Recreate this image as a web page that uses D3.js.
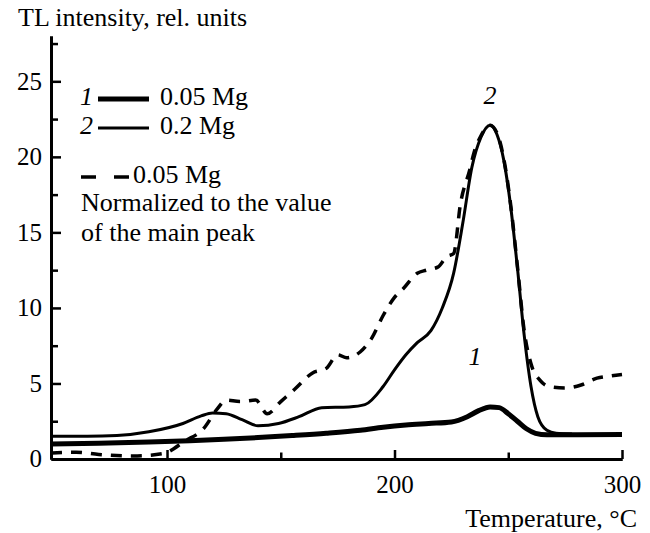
<!DOCTYPE html>
<html lang="en">
	<head>
		<meta charset="utf-8">
		<title>TL intensity vs temperature</title>
		<script src="https://d3js.org/d3.v7.min.js"></script>
		<style type="text/css">
			body { margin: 0; background: white; }
			text {
				font-family: "Liberation Serif", "DejaVu Serif", serif;
				fill: black;
			}
		</style>
	</head>
	<body>
		<svg id="chart" width="650" height="533"></svg>

		<script type="text/javascript">

			// curve 1: 0.05 Mg
			var temp1 = [49, 70, 92, 110, 125, 140, 155, 170, 185, 195, 205, 215, 225, 232, 237, 242, 246, 250, 254, 258, 262, 267, 280, 300];
			var val1  = [1.0, 1.05, 1.12, 1.2, 1.3, 1.42, 1.55, 1.7, 1.9, 2.1, 2.25, 2.35, 2.45, 2.8, 3.2, 3.45, 3.4, 3.0, 2.5, 2.0, 1.7, 1.6, 1.6, 1.62];

			// curve 2: 0.2 Mg
			var temp2 = [49, 65, 78, 92, 107, 115, 120, 126, 133, 140, 149, 158, 168, 180, 187, 195, 200, 205, 210, 216, 221, 226, 230, 234, 238, 242, 245, 248, 251, 254, 257, 260, 263, 267, 271, 278];
			var val2  = [1.5, 1.5, 1.55, 1.8, 2.35, 2.85, 3.05, 3.0, 2.6, 2.2, 2.35, 2.8, 3.4, 3.45, 3.6, 4.8, 5.9, 6.9, 7.7, 8.5, 10.0, 12.3, 15.6, 19.3, 21.3, 22.1, 21.5, 19.8, 16.8, 12.7, 8.2, 4.8, 2.8, 1.9, 1.7, 1.65];

			// dashed: 0.05 Mg normalized to the value of the main peak
			var tempN = [49, 60, 70, 85, 98, 108, 116, 122, 126, 132, 139, 144, 150, 156, 164, 170, 175, 179, 185, 190, 195, 200, 204, 210, 214, 219, 223, 226, 229, 233, 235, 238, 242, 245, 248, 251, 254, 257, 260, 264, 268, 275, 282, 289, 295, 300];
			var valN  = [0.4, 0.45, 0.3, 0.2, 0.35, 1.2, 2.0, 3.3, 3.9, 3.8, 3.9, 3.0, 3.8, 4.6, 5.7, 6.0, 6.9, 6.7, 7.1, 8.0, 9.5, 10.7, 11.3, 12.3, 12.5, 12.7, 13.4, 13.6, 16.9, 19.1, 20.3, 21.4, 22.1, 21.6, 19.9, 16.9, 12.8, 8.5, 6.3, 5.2, 4.8, 4.7, 4.9, 5.35, 5.5, 5.6];

			var xMajor = [100, 200, 300];
			var xMinor = [150, 250];
			var yMajor = [5, 10, 15, 20, 25];
			var yMinor = [2.5, 7.5, 12.5, 17.5, 22.5, 27.5];

			var legendNames = ["0.05 Mg", "0.2 Mg", "0.05 Mg"];
			var legendNums = ["1", "2"];
			var noteLines = ["Normalized to the value", "of the main peak"];

			var svg = d3.select("#chart");

			var x = d3.scaleLinear().domain([49, 300]).range([51, 622]);
			var y = d3.scaleLinear().domain([0, 28]).range([459, 36]);

			var zip = function(ts, vs) {
				return ts.map(function(t, i) { return {t: t, v: vs[i]}; });
			};

			//Axes, ticks drawn inward
			var yAxisMajor = d3.axisLeft(y).tickValues(yMajor).tickSize(-10).tickSizeOuter(0).tickPadding(9);
			var yAxisMinor = d3.axisLeft(y).tickValues(yMinor).tickSize(-7).tickSizeOuter(0).tickFormat("");
			var xAxisMajor = d3.axisBottom(x).tickValues(xMajor).tickSize(-9).tickSizeOuter(0).tickPadding(16);
			var xAxisMinor = d3.axisBottom(x).tickValues(xMinor).tickSize(-6.5).tickSizeOuter(0).tickFormat("");

			var gy = svg.append("g").attr("transform", "translate(51,0)");
			gy.call(yAxisMajor);
			gy.append("g").call(yAxisMinor);
			// the 0 label sits on the x axis
			gy.append("text").attr("x", -9).attr("y", y(0)).attr("dy", "0.32em")
				.attr("text-anchor", "end").style("font-size", "25px").text("0");

			var gx = svg.append("g").attr("transform", "translate(0,459)");
			gx.call(xAxisMajor);
			gx.append("g").call(xAxisMinor);

			svg.selectAll(".domain").attr("stroke", "black").attr("stroke-width", 3);
			svg.selectAll(".tick line").attr("stroke", "black").attr("stroke-width", 2.5);
			svg.selectAll(".tick text").style("font-size", "25px").style("font-family", "Liberation Serif");

			//Axis titles
			svg.append("text").attr("x", 18).attr("y", 26).style("font-size", "26px").text("TL intensity, rel. units");
			svg.append("text").attr("x", 637).attr("y", 527).attr("text-anchor", "end").style("font-size", "26px").text("Temperature, \u00B0C");

			//Curves
			var line = d3.line()
				.x(function(d) { return x(d.t); })
				.y(function(d) { return y(d.v); })
				.curve(d3.curveMonotoneX);

			svg.append("path").datum(zip(tempN, valN))
				.attr("fill", "none").attr("stroke", "black").attr("stroke-width", 3.5)
				.attr("stroke-dasharray", "11,9").attr("d", line);

			svg.append("path").datum(zip(temp2, val2))
				.attr("fill", "none").attr("stroke", "black").attr("stroke-width", 3).attr("d", line);

			svg.append("path").datum(zip(temp1, val1))
				.attr("fill", "none").attr("stroke", "black").attr("stroke-width", 5).attr("d", line);

			//Curve labels
			svg.append("text").attr("x", 490).attr("y", 104).attr("text-anchor", "middle")
				.style("font-size", "26px").style("font-style", "italic").text("2");
			svg.append("text").attr("x", 475).attr("y", 365).attr("text-anchor", "middle")
				.style("font-size", "26px").style("font-style", "italic").text("1");

			//Legend
			var lg = svg.append("g");
			var rows = [105, 134];
			var widths = [5, 3];
			rows.forEach(function(by, i) {
				lg.append("text").attr("x", 80).attr("y", by).style("font-size", "26px")
					.style("font-style", "italic").text(legendNums[i]);
				lg.append("line").attr("x1", 98).attr("x2", 149).attr("y1", by - 6).attr("y2", by - 6)
					.attr("stroke", "black").attr("stroke-width", widths[i]);
				lg.append("text").attr("x", 160).attr("y", by).style("font-size", "26px").text(legendNames[i]);
			});
			lg.append("line").attr("x1", 81).attr("x2", 131).attr("y1", 177).attr("y2", 177)
				.attr("stroke", "black").attr("stroke-width", 3.5).attr("stroke-dasharray", "15,18");
			lg.append("text").attr("x", 133).attr("y", 183).style("font-size", "26px").text(legendNames[2]);
			noteLines.forEach(function(s, i) {
				lg.append("text").attr("x", 81).attr("y", 211 + i * 30).style("font-size", "26px").text(s);
			});

		</script>
	</body>
</html>
